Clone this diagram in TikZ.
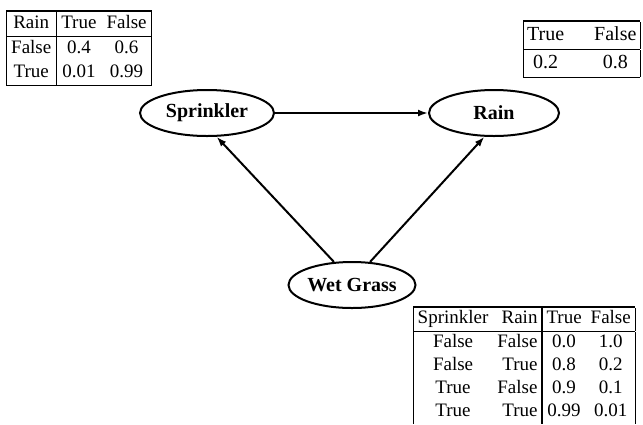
\documentclass[tikz,border=0pt]{standalone}
\usepackage{fontspec}
\setmainfont{Liberation Serif}
\usepackage{tikz}
\usetikzlibrary{shapes,arrows.meta}
\setlength{\arrayrulewidth}{1.3pt}

\begin{document}
\begin{tikzpicture}[
    x=1pt, y=-1pt,
    var/.style={ellipse, draw, line width=2pt, inner sep=0pt, minimum height=46pt, font=\fontsize{20}{24}\selectfont\bfseries},
    cpt/.style={anchor=north west, inner sep=0pt},
    line/.style={draw, -{Latex[length=10pt,width=7pt]}, line width=2pt}
]
    \useasboundingbox (0,0) rectangle (643,424);

    % Variables
    \node [var, minimum width=134pt] (sprinkler) at (207,113) {Sprinkler};
    \node [var, minimum width=130pt] (rain) at (494,113) {Rain};
    \node [var, minimum width=127pt] (wetgrass) at (352,285) {Wet Grass};

    % Paths
    \path [line] (sprinkler) -- (rain);
    \path [line] (wetgrass.128) -- (sprinkler.-68);
    \path [line] (wetgrass.52) -- (rain.-112);

    % Conditional probability tables
    \node [cpt, font=\fontsize{19}{24}\selectfont] (sprinklercpt) at (6,10) {\setlength{\tabcolsep}{5pt}%
        \begin{tabular}{|c|cc|}
            \hline
            Rain & True & False\\
            \hline
            False & 0.4 & 0.6\\
            True & 0.01 & 0.99\\
            \hline
        \end{tabular}};
    \node [cpt, font=\fontsize{20}{27}\selectfont] (raincpt) at (523,20) {\setlength{\tabcolsep}{4pt}%
        \begin{tabular}{|c@{\hspace{30pt}}c|}
            \hline
            True & False\\
            \hline
            0.2 & 0.8\\
            \hline
        \end{tabular}};
    \node [cpt, font=\fontsize{19}{23}\selectfont] (wetgrasscpt) at (413,306) {\setlength{\tabcolsep}{4.5pt}%
        \begin{tabular}{|cr|cc|}
            \hline
            Sprinkler & Rain & True & False\\
            \hline
            False & False & 0.0 & 1.0\\
            False & True & 0.8 & 0.2\\
            True & False & 0.9 & 0.1\\
            True & True & 0.99 & 0.01
        \end{tabular}};

\end{tikzpicture}
\end{document}
